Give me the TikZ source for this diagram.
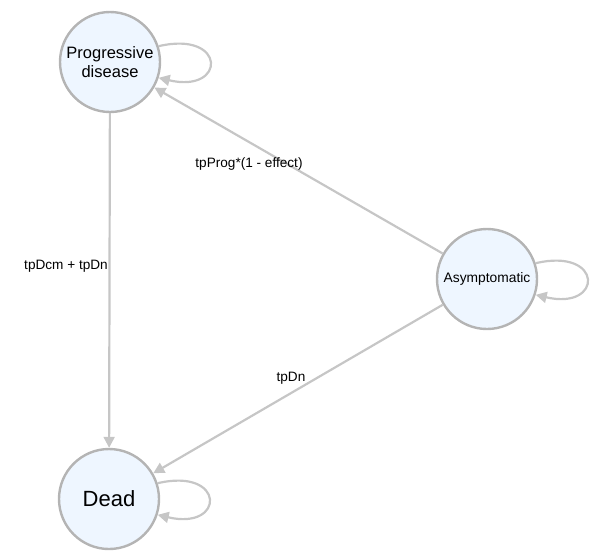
\documentclass[tikz,border=0pt]{standalone}
\usepackage{fontspec}
\setmainfont{Liberation Sans}
\usetikzlibrary{arrows.meta}
\definecolor{nodefill}{HTML}{EEF6FF}
\definecolor{nodeline}{HTML}{B4B4B4}
\definecolor{edgeline}{HTML}{C6C6C6}
\tikzset{
  state/.style={circle, draw=nodeline, line width=2.4pt, fill=nodefill, minimum size=100pt, inner sep=0pt, align=center, text=black},
  edge/.style={draw=edgeline, line width=2.2pt, -{Triangle[length=11pt,width=11pt]}},
  elabel/.style={font=\fontsize{13.6}{16}\selectfont, text=black}
}
\begin{document}
\begin{tikzpicture}[x=1pt,y=-1pt]
\useasboundingbox (0,0) rectangle (601,558);
\node[state, font=\fontsize{16.5}{19}\selectfont] (prog) at (110,62) {Progressive\\disease};
\node[state, font=\fontsize{13.8}{16}\selectfont] (asym) at (487,279) {Asymptomatic};
\node[state, font=\fontsize{22}{25}\selectfont] (dead) at (109,499) {Dead};
\draw[edge] (prog) -- (dead);
\draw[edge] (asym) -- (prog);
\draw[edge] (asym) -- (dead);
\draw[edge] (prog.18) .. controls +(68,-16) and +(68,16) .. (prog.-18);
\draw[edge] (asym.18) .. controls +(68,-16) and +(68,16) .. (asym.-18);
\draw[edge] (dead.18) .. controls +(68,-16) and +(68,16) .. (dead.-18);
\node[elabel] (l1) at (249,164) {tpProg*(1 - effect)};
\node[elabel] (l2) at (66,266) {tpDcm + tpDn};
\node[elabel] (l3) at (291,378) {tpDn};
\end{tikzpicture}
\end{document}
